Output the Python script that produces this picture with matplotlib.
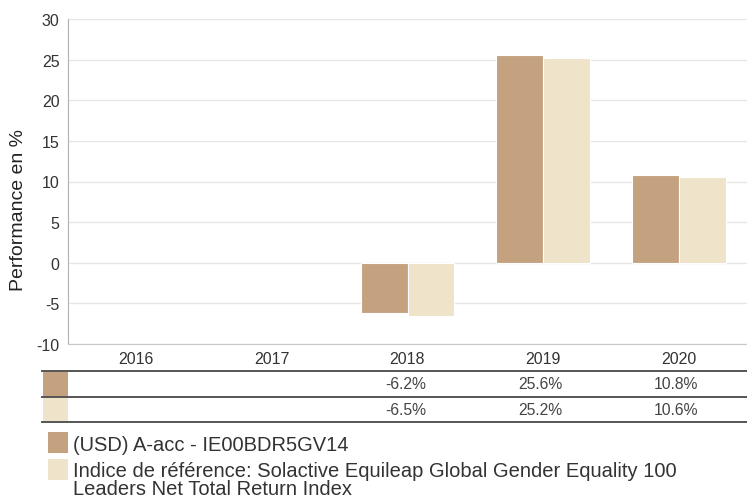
""" Annual performance bar chart with value table. """

import matplotlib
matplotlib.use("Agg")
import matplotlib.pyplot as plt
from matplotlib.patches import Rectangle
from matplotlib.lines import Line2D
import numpy as np

# Data
years = ["2016", "2017", "2018", "2019", "2020"]
fund = [np.nan, np.nan, -6.2, 25.6, 10.8]
index = [np.nan, np.nan, -6.5, 25.2, 10.6]
fund_label = "(USD) A-acc - IE00BDR5GV14"
index_label = ("Indice de référence: Solactive Equileap Global Gender Equality 100\n"
               "Leaders Net Total Return Index")
y_ticks = [-10, -5, 0, 5, 10, 15, 20, 25, 30]

# Style
c_fund = "#c4a17f"
c_index = "#efe3c9"
grid_c = "#e6e6e6"
txt_c = "#333333"
plt.rcParams["font.family"] = ["Liberation Sans", "DejaVu Sans"]

W, H = 747, 502
fig = plt.figure(figsize=(W / 100, H / 100), dpi=100)


def fx(px):
    return px / W


def fy(py):
    return 1 - py / H


# Main axes
ax = fig.add_axes([fx(68), fy(345), fx(747) - fx(68), fy(20) - fy(345)])
x = np.arange(len(years))
w = 0.346
ax.bar(x - w / 2, fund, w, color=c_fund, edgecolor="white", linewidth=0.8, zorder=3)
ax.bar(x + w / 2, index, w, color=c_index, edgecolor="white", linewidth=0.8, zorder=3)

ax.set_xlim(-0.5, len(years) - 0.5)
ax.set_ylim(-10, 30)
ax.set_yticks(y_ticks)
ax.set_yticklabels([str(t) for t in y_ticks], fontsize=11.5, color=txt_c)
ax.set_xticks(x)
ax.set_xticklabels(years, fontsize=11.5, color=txt_c)
ax.tick_params(axis="both", length=0)
ax.tick_params(axis="y", pad=6)
ax.tick_params(axis="x", pad=5)
ax.grid(axis="y", color=grid_c, linewidth=1, zorder=0)
for side in ["top", "right"]:
    ax.spines[side].set_visible(False)
ax.spines["left"].set_color("#b0b0b0")
ax.spines["bottom"].set_color("#c8c8c8")
ax.set_ylabel("Performance en %", fontsize=14, color="#222222")
ax.yaxis.set_label_coords(-0.06, 0.415)

# Value table
row_y = [372, 397.5, 423]
for yy in row_y:
    fig.add_artist(Line2D([fx(42), fx(747)], [fy(yy), fy(yy)], color="#555555", linewidth=1.4))
for i, (vals, col) in enumerate([(fund, c_fund), (index, c_index)]):
    top, bot = row_y[i] + 1, row_y[i + 1] - 1
    fig.add_artist(Rectangle((fx(43), fy(bot)), fx(68) - fx(43), fy(top) - fy(bot),
                             transform=fig.transFigure, color=col, linewidth=0))
    for xi, v in zip(x, vals):
        if np.isnan(v):
            continue
        px = ax.transData.transform((xi, 0))[0]
        fig.text(px / W + fx(19), fy((top + bot) / 2), f"{v:.1f}%", ha="right", va="center",
                 fontsize=11.3, color="#444444")

# Legend
fig.add_artist(Rectangle((fx(48), fy(454)), fx(20), fy(433) - fy(454),
                         transform=fig.transFigure, color=c_fund, linewidth=0))
fig.text(fx(73), fy(446), fund_label, ha="left", va="center", fontsize=14.5, color=txt_c)
fig.add_artist(Rectangle((fx(48), fy(481)), fx(20), fy(460) - fy(481),
                         transform=fig.transFigure, color=c_index, linewidth=0))
fig.text(fx(73), fy(480.5), index_label, ha="left", va="center", fontsize=14.5, color=txt_c,
         linespacing=0.9)

fig.savefig("out.png", dpi=100)
